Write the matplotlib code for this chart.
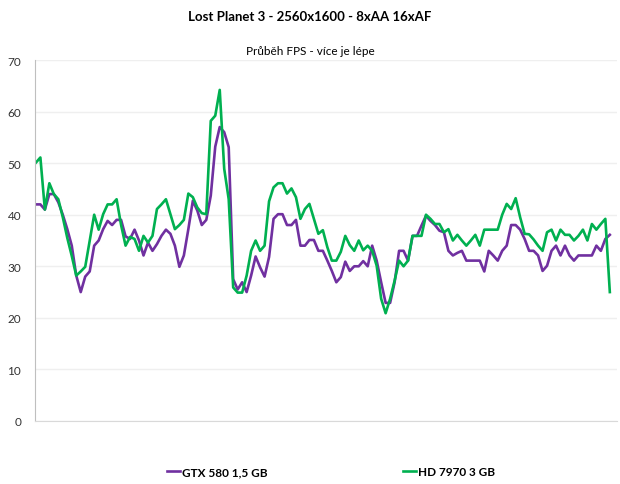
import numpy as np
import matplotlib.pyplot as plt

# FPS values, one per sample
gtx580 = [42, 42, 41, 44, 44, 42.4, 40, 37.2, 34, 28.2,
          25, 28, 29, 34, 35, 37.2, 38.8, 38, 39, 39,
          35.8, 35.3, 37.1, 35, 32.1, 34.6, 33, 34.3, 35.9, 37.1,
          36.3, 34, 29.9, 32.1, 37.2, 42.7, 40.8, 38, 39, 43.7,
          53.2, 57, 56, 53.1, 27.5, 25.5, 26.9, 25, 28.2, 31.9,
          29.8, 28, 31.8, 39.2, 40.1, 40.1, 38, 38, 39, 34,
          34, 35.1, 35.1, 33, 33, 31.1, 29.1, 26.9, 27.9, 30.9,
          29.1, 30, 30, 31, 30, 34, 31.1, 26.9, 22.9, 22.9,
          26.9, 33, 33, 31.1, 35.9, 35.9, 37.9, 39.8, 38.8, 38,
          36.9, 36.6, 33, 32.1, 32.6, 33, 31.1, 31.1, 31.1, 31.1,
          29, 33, 32.1, 31.1, 33, 34, 38, 38, 37.1, 35.3,
          33, 33, 32.1, 29.1, 30.1, 33, 34, 32.1, 34, 32.1,
          31.1, 32.1, 32.1, 32.1, 32.1, 34, 33, 35.3, 36.1]

hd7970 = [50.1, 51.1, 41, 46.1, 44, 43, 39.5, 35.5, 32, 28.2,
          29, 29.9, 35, 40, 37.1, 40.1, 42, 42, 43, 38,
          34, 35.7, 35.3, 33, 35.9, 34.6, 35.9, 41.1, 42, 43,
          40.1, 37.2, 38, 39, 44.1, 43.4, 41.4, 40.3, 40.1, 58.2,
          59.2, 64.2, 48.9, 43, 25.9, 24.9, 24.9, 28.2, 33, 35,
          33, 34, 42.6, 45.3, 46.1, 46.1, 44.1, 45.1, 43.4, 39.2,
          41.1, 42.1, 39.2, 36.3, 37, 33.7, 31.1, 31.1, 32.8, 35.9,
          34.1, 33, 35, 33.1, 34, 33, 30.1, 23.7, 20.9, 23.7,
          27.2, 31.1, 30, 31.1, 35.9, 35.9, 35.9, 40, 39.2, 38.2,
          38.2, 36.6, 37.2, 35, 36.1, 35, 34, 35, 36.1, 34,
          37.1, 37.1, 37.1, 37.1, 40, 42.1, 41.1, 43.2, 39.5, 36.3,
          36.2, 35.2, 34, 33, 36.6, 37.1, 35, 37.1, 36.1, 36.1,
          35, 35.9, 37.1, 35, 38.2, 37.1, 38.2, 39.2, 25]

labels = ['GTX 580 1,5 GB', 'HD 7970 3 GB']
colors = ['#7030A0', '#00B050']
y_ticks = [0, 10, 20, 30, 40, 50, 60, 70]

font = ['Lato', 'DejaVu Sans']
plt.rcParams['font.family'] = font

fig = plt.figure(figsize=(6.2, 4.85), dpi=100)
ax = fig.add_axes([35/620, 1 - 422/485, 582/620, 361/485])

x = np.arange(len(gtx580))
ax.plot(x, gtx580, color=colors[0], lw=1.9, label=labels[0], solid_joinstyle='round')
ax.plot(x, hd7970, color=colors[1], lw=1.9, label=labels[1], solid_joinstyle='round')

ax.set_ylim(0, 70)
ax.set_yticks(y_ticks)
ax.set_xlim(-0.2, 129.6)
ax.set_xticks([])
ax.yaxis.grid(True, color='#efefef', lw=1)
ax.set_axisbelow(True)
ax.tick_params(axis='y', length=0, pad=10, labelsize=8.5, colors='#333333')
for s in ['top', 'right']:
    ax.spines[s].set_visible(False)
ax.spines['left'].set_color('#bfbfbf')
ax.spines['bottom'].set_color('#d9d9d9')

fig.text(0.5, 1 - 17/485, 'Lost Planet 3 - 2560x1600 - 8xAA 16xAF', ha='center', va='center',
         fontsize=9.5, fontweight='bold')
fig.text(0.5, 1 - 52/485, 'Průběh FPS - více je lépe', ha='center', va='center', fontsize=8.5)

fig.legend(loc='center', bbox_to_anchor=(331/620, 1 - 473/485), ncol=2, frameon=False,
           handlelength=1.1, handletextpad=0.15, columnspacing=11.5,
           prop={'weight': 'bold', 'size': 8.5, 'family': font})

fig.savefig('out.png', dpi=100)
